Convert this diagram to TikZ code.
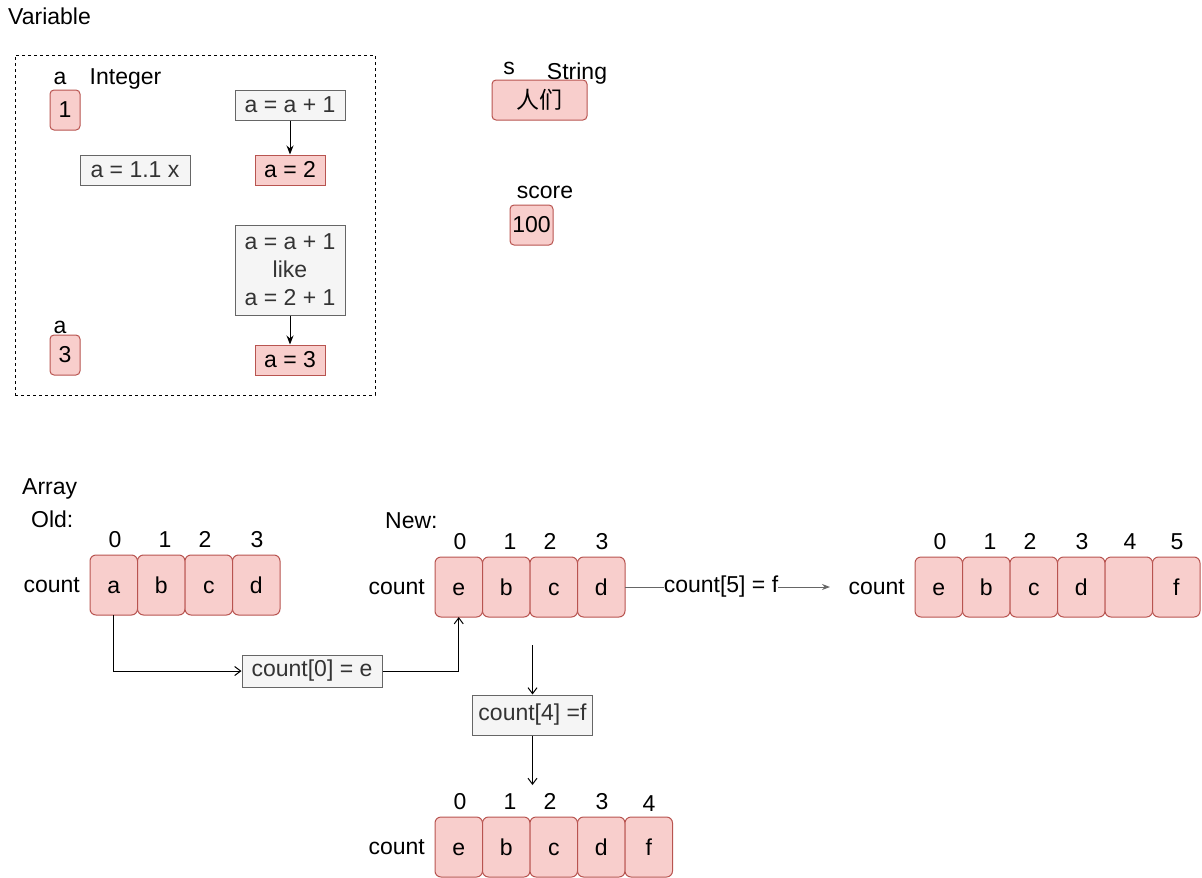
\documentclass[tikz,border=0pt]{standalone}
\usepackage{fontspec}
\setmainfont{Liberation Sans}
\newfontfamily\cjk{Noto Sans CJK SC}
\usepackage{tikz}
\usetikzlibrary{arrows.meta, positioning}
\definecolor{redfill}{HTML}{F8CECC}
\definecolor{redline}{HTML}{B85450}
\definecolor{greyfill}{HTML}{F5F5F5}
\definecolor{greyline}{HTML}{666666}
\definecolor{greytext}{HTML}{333333}
\tikzstyle{cell} = [rectangle, draw=redline, fill=redfill, line width=1pt, outer sep=0pt, rounded corners=6pt, minimum width=47.5pt, minimum height=60pt, inner sep=0pt, text height=16.5pt, text depth=0pt, text centered]
\tikzstyle{op} = [rectangle, draw=greyline, fill=greyfill, line width=1pt, text=greytext, inner sep=0pt, align=center]
\tikzstyle{arrow} = [line width=1pt, -{Stealth[length=9pt, width=7pt]}]

\begin{document}
\begin{tikzpicture}[
        x=1pt, y=-1pt,
        font=\fontsize{23}{28}\selectfont,
        lbl/.style={inner sep=0pt},
        val/.style={rectangle, draw=redline, fill=redfill, line width=1pt, rounded corners=4pt, inner sep=0pt, minimum width=30pt, minimum height=40pt},
        res/.style={rectangle, draw=redline, fill=redfill, line width=1pt, inner sep=0pt, minimum width=70pt, minimum height=30pt},
        open/.style={line width=1pt, -{Straight Barb[length=6pt, width=9pt]}}
        ]
        \useasboundingbox (0,0) rectangle (1202,878);

        % variables
        \node[lbl, anchor=base west] (var_title) at (8,24) {Variable};
        \node[draw, dash pattern=on 3pt off 3pt, line width=1pt, minimum width=360pt, minimum height=340pt, inner sep=0pt] (var_frame) at (195,225) {};

        \node[lbl, anchor=base] (a_name) at (60,84) {a};
        \node[lbl, anchor=base] (a_type) at (125.5,84) {Integer};
        \node[val] (a_one) at (65,110) {1};
        \node[op, minimum width=110pt, minimum height=30pt] (op_float) at (135,170) {a = 1.1 x};

        \node[op, minimum width=110pt, minimum height=30pt] (op_inc) at (290,105) {a = a + 1};
        \node[res] (a_two) at (290,170) {a = 2};
        \node[op, minimum width=110pt, minimum height=90pt] (op_like) at (290,270) {a = a + 1\\like\\a = 2 + 1};
        \node[res] (a_three) at (290,360) {a = 3};

        \node[lbl, anchor=base] (a_name2) at (60,333) {a};
        \node[val] (a_last) at (65,355) {3};

        \draw[arrow] (op_inc) -- (a_two);
        \draw[arrow] (op_like) -- (a_three);

        \node[lbl, anchor=base] (s_name) at (509,74) {s};
        \node[lbl, anchor=base] (s_type) at (577,79) {String};
        \node[val, minimum width=95pt] (s_val) at (539.5,100) {\cjk 人们};
        \node[lbl, anchor=base] (score_name) at (545,198) {score};
        \node[val, minimum width=43pt] (score_val) at (531.5,225) {100};

        % arrays
        \node[lbl, anchor=base west] (arr_title) at (22,494) {Array};
        \node[lbl, anchor=base west] (old_title) at (31,527) {Old:};
        \node[lbl, anchor=base west] (new_title) at (385,528) {New:};

        \node[cell] (old_a) at (113.75,585) {a};
        \node[cell, right=0pt of old_a] (old_b) {b};
        \node[cell, right=0pt of old_b] (old_c) {c};
        \node[cell, right=0pt of old_c] (old_d) {d};
        \node[lbl, left=10pt of old_a] (old_name) {count};
        \node[lbl, anchor=base] (old_i0) at (115,547) {0};
        \node[lbl, anchor=base] (old_i1) at (165,547) {1};
        \node[lbl, anchor=base] (old_i2) at (205,547) {2};
        \node[lbl, anchor=base] (old_i3) at (257,547) {3};

        \node[cell] (new_e) at (458.75,587) {e};
        \node[cell, right=0pt of new_e] (new_b) {b};
        \node[cell, right=0pt of new_b] (new_c) {c};
        \node[cell, right=0pt of new_c] (new_d) {d};
        \node[lbl, left=10pt of new_e] (new_name) {count};
        \node[lbl, anchor=base] (new_i0) at (460,549) {0};
        \node[lbl, anchor=base] (new_i1) at (510,549) {1};
        \node[lbl, anchor=base] (new_i2) at (550,549) {2};
        \node[lbl, anchor=base] (new_i3) at (602,549) {3};

        \node[cell] (big_e) at (938.75,587) {e};
        \node[cell, right=0pt of big_e] (big_b) {b};
        \node[cell, right=0pt of big_b] (big_c) {c};
        \node[cell, right=0pt of big_c] (big_d) {d};
        \node[cell, right=0pt of big_d] (big_x) {};
        \node[cell, right=0pt of big_x] (big_f) {f};
        \node[lbl, left=10pt of big_e] (big_name) {count};
        \node[lbl, anchor=base] (big_i0) at (940,549) {0};
        \node[lbl, anchor=base] (big_i1) at (990,549) {1};
        \node[lbl, anchor=base] (big_i2) at (1030,549) {2};
        \node[lbl, anchor=base] (big_i3) at (1082,549) {3};
        \node[lbl, anchor=base] (big_i4) at (1130,549) {4};
        \node[lbl, anchor=base] (big_i5) at (1177,549) {5};

        \node[cell] (low_e) at (458.75,847) {e};
        \node[cell, right=0pt of low_e] (low_b) {b};
        \node[cell, right=0pt of low_b] (low_c) {c};
        \node[cell, right=0pt of low_c] (low_d) {d};
        \node[cell, right=0pt of low_d] (low_f) {f};
        \node[lbl, left=10pt of low_e] (low_name) {count};
        \node[lbl, anchor=base] (low_i0) at (460,809) {0};
        \node[lbl, anchor=base] (low_i1) at (510,809) {1};
        \node[lbl, anchor=base] (low_i2) at (550,809) {2};
        \node[lbl, anchor=base] (low_i3) at (602,809) {3};
        \node[lbl, anchor=base] (low_i4) at (649,811) {4};

        \node[op, minimum width=140pt, minimum height=32pt] (op_set) at (312,671) {count[0] = e};
        \node[op, minimum width=120pt, minimum height=40pt] (op_push) at (532.5,715) {count[4] =f};
        \node[lbl] (op_grow) at (721,587) {count[5] = f};
        \coordinate (push_top) at (532.5,645);
        \coordinate (push_end) at (532.5,785);
        \coordinate (grow_end) at (830,587);

        \draw[open] (old_a.south) |- (op_set.west);
        \draw[open] (op_set.east) -| (new_e.south);
        \draw[open] (push_top) -- (op_push.north);
        \draw[open] (op_push.south) -- (push_end);
        \draw[line width=1pt, greyline] (new_d.east) -- (op_grow.west);
        \draw[arrow, greyline, -{Stealth[length=8pt, width=6pt]}] (op_grow.east) -- (grow_end);

    \end{tikzpicture}
\end{document}
